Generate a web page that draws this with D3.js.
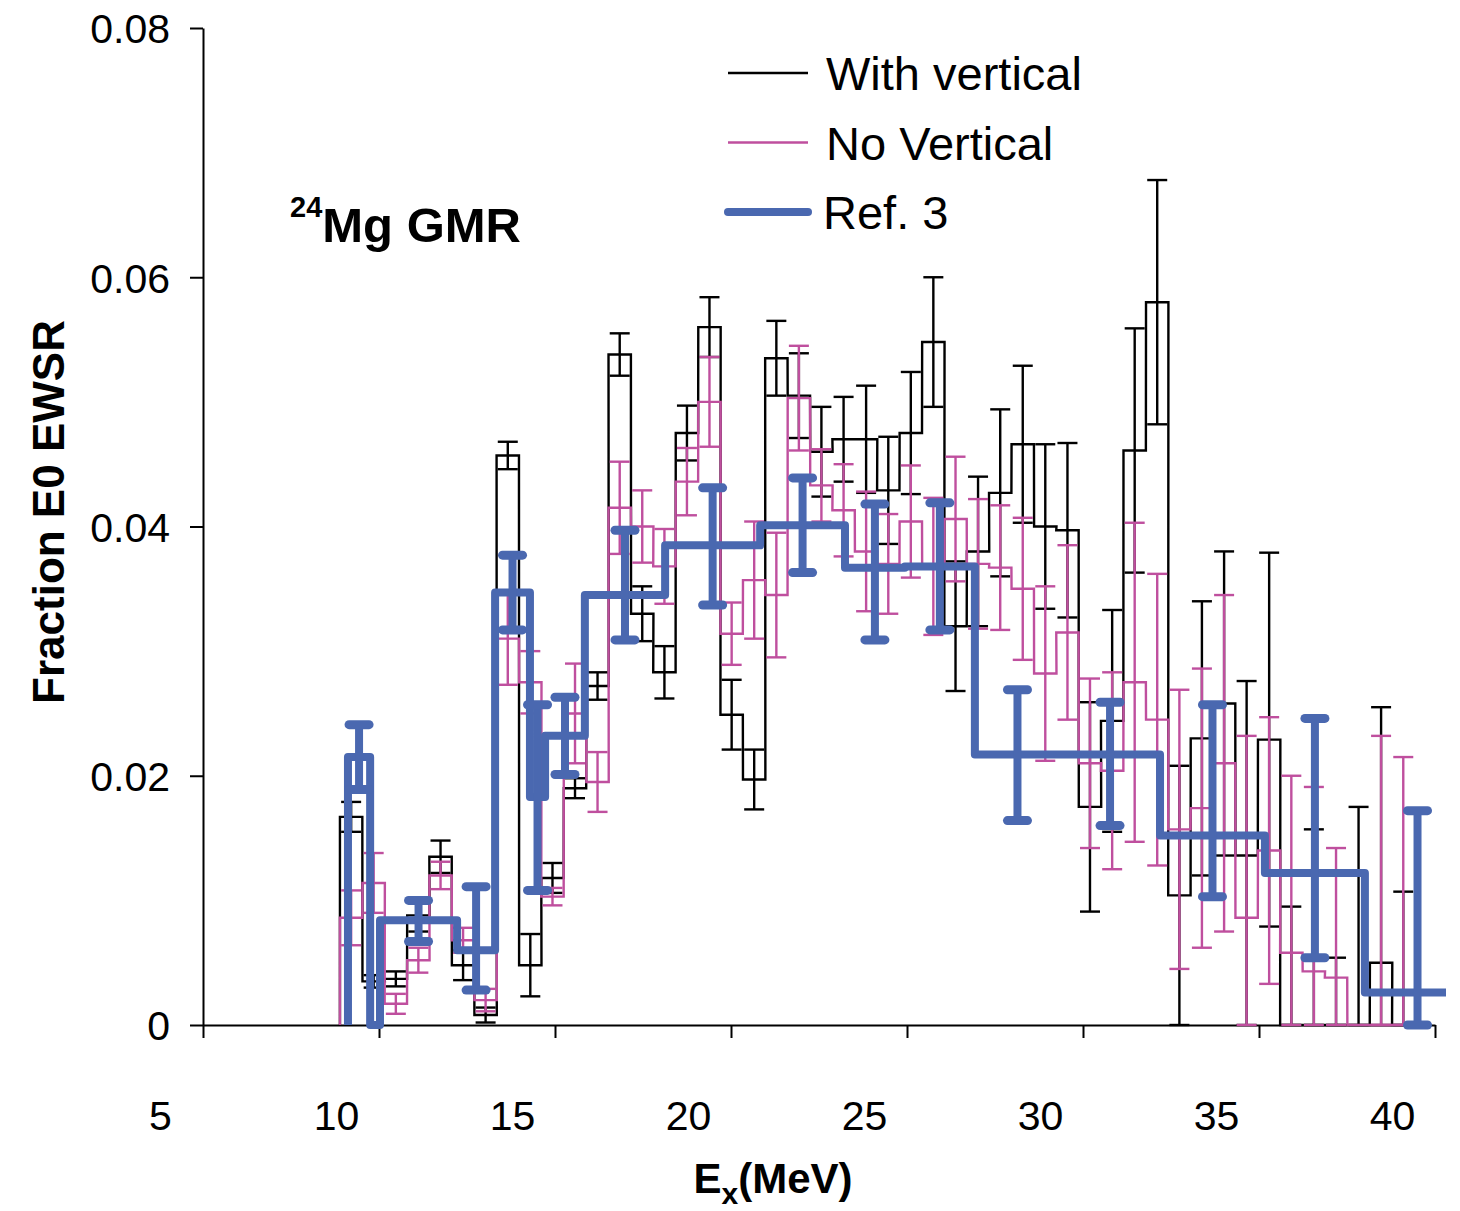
<!DOCTYPE html>
<html>
<head>
<meta charset="utf-8">
<script src="https://cdn.jsdelivr.net/npm/d3@7"></script>
<style>
  body { margin: 0; background: #fff; }
  svg text { font-family: "Liberation Sans", Arial, sans-serif; fill: #000; }
</style>
</head>
<body>
<div id="chart"></div>
<script>
const WIDTH = 1460;
const HEIGHT = 1211;

// bin centres (MeV) used by both of our fits
const energy = [10.43, 11.07, 11.70, 12.34, 12.97, 13.61, 14.25, 14.88, 15.52, 16.15,
  16.79, 17.43, 18.06, 18.70, 19.33, 19.97, 20.61, 21.24, 21.88, 22.51,
  23.15, 23.79, 24.42, 25.06, 25.69, 26.33, 26.97, 27.60, 28.24, 28.87,
  29.51, 30.15, 30.78, 31.42, 32.05, 32.69, 33.33, 33.96, 34.60, 35.23,
  35.87, 36.51, 37.14, 37.78, 38.41, 39.05, 39.69, 40.32];
const BIN_W = 0.636;

// "With vertical"
const withVertical = [0.0167, 0.0035, 0.0037, 0.0088, 0.0135, 0.0048, 0.0008, 0.0457, 0.0048, 0.0118,
  0.0190, 0.0272, 0.0538, 0.0330, 0.0283, 0.0475, 0.0560, 0.0249, 0.0197, 0.0535,
  0.0505, 0.0460, 0.0470, 0.0470, 0.0429, 0.0475, 0.0548, 0.0320, 0.0380, 0.0427,
  0.0466, 0.0400, 0.0397, 0.0175, 0.0244, 0.0461, 0.0580, 0.0104, 0.0230, 0.0258,
  0.0136, 0.0229, 0.0000, 0.0000, 0.0000, 0.0000, 0.0050, 0.0000];
const withVerticalErr = [0.0012, 0.0005, 0.0006, 0.0013, 0.0013, 0.0012, 0.0006, 0.0011, 0.0025, 0.0012,
  0.0008, 0.0011, 0.0017, 0.0022, 0.0021, 0.0022, 0.0024, 0.0028, 0.0024, 0.0030,
  0.0034, 0.0036, 0.0034, 0.0043, 0.0043, 0.0049, 0.0052, 0.0052, 0.0060, 0.0067,
  0.0063, 0.0066, 0.0070, 0.0084, 0.0089, 0.0098, 0.0098, 0.0104, 0.0110, 0.0122,
  0.0140, 0.0150, 0.0095, 0.0157, 0.0054, 0.0175, 0.0205, 0.0107];

// "No Vertical"
const noVertical = [0.0086, 0.0114, 0.0017, 0.0052, 0.0120, 0.0068, 0.0020, 0.0310, 0.0275, 0.0103,
  0.0250, 0.0195, 0.0415, 0.0400, 0.0368, 0.0436, 0.0500, 0.0314, 0.0357, 0.0345,
  0.0503, 0.0433, 0.0413, 0.0380, 0.0370, 0.0404, 0.0368, 0.0406, 0.0370, 0.0367,
  0.0350, 0.0282, 0.0315, 0.0210, 0.0204, 0.0275, 0.0245, 0.0157, 0.0174, 0.0210,
  0.0086, 0.0140, 0.0058, 0.0043, 0.0038, 0.0000, 0.0000, 0.0000];
const noVerticalErr = [0.0022, 0.0024, 0.0008, 0.0010, 0.0011, 0.0010, 0.0009, 0.0037, 0.0025, 0.0007,
  0.0040, 0.0024, 0.0037, 0.0029, 0.0030, 0.0027, 0.0036, 0.0025, 0.0047, 0.0050,
  0.0042, 0.0029, 0.0037, 0.0048, 0.0040, 0.0045, 0.0055, 0.0050, 0.0052, 0.0050,
  0.0057, 0.0070, 0.0070, 0.0068, 0.0079, 0.0128, 0.0117, 0.0112, 0.0112, 0.0135,
  0.0146, 0.0107, 0.0142, 0.0148, 0.0104, 0.0000, 0.0232, 0.0215];

// Ref. 3 (bin edges in MeV, value, upper / lower error)
const ref3Lo = [10.34, 11.25, 13.44, 14.52, 15.51, 15.94, 17.07, 19.35, 22.05, 24.46, 26.16, 28.15, 30.57, 33.41, 36.39, 39.23];
const ref3Hi = [10.97, 13.44, 14.52, 15.51, 15.94, 17.07, 19.35, 22.05, 24.46, 26.16, 28.15, 30.57, 33.41, 36.39, 39.23, 42.22];
const ref3 = [0.0215, 0.0084, 0.0060, 0.0347, 0.0183, 0.0232, 0.0345, 0.0385, 0.0401, 0.0367, 0.0368, 0.0217, 0.0217, 0.0152, 0.0122, 0.0026];
const ref3Up = [0.0026, 0.0016, 0.0051, 0.0030, 0.0074, 0.0031, 0.0052, 0.0046, 0.0038, 0.0051, 0.0051, 0.0052, 0.0042, 0.0105, 0.0124, 0.0146];
const ref3Down = [0.0026, 0.0017, 0.0032, 0.0030, 0.0075, 0.0031, 0.0036, 0.0048, 0.0038, 0.0058, 0.0051, 0.0053, 0.0057, 0.0049, 0.0068, 0.0026];

const xTicks = [5, 10, 15, 20, 25, 30, 35, 40];
const yTicks = [0, 0.02, 0.04, 0.06, 0.08];

const BLACK = "#000";
const PINK = "#bf4f9e";
const BLUE = "#4a68b0";

const svg = d3.select("#chart").append("svg")
  .attr("width", WIDTH)
  .attr("height", HEIGHT);

// labels sit left of their tick marks, as in the original
const x = d3.scaleLinear().domain([5, 40]).range([160, 1392]);
const y = d3.scaleLinear().domain([0, 0.08]).range([1025, 28]);
const TICK_SHIFT = 43;

svg.append("defs").append("clipPath").attr("id", "plot-clip")
  .append("rect")
  .attr("x", x(5) + TICK_SHIFT).attr("y", 0)
  .attr("width", 1446 - (x(5) + TICK_SHIFT)).attr("height", y(0) + 12);

// axes
const xAxis = svg.append("g")
  .attr("transform", `translate(${TICK_SHIFT}, ${y(0)})`)
  .call(d3.axisBottom(x).tickValues(xTicks).tickSize(13).tickSizeOuter(0));
xAxis.selectAll("text")
  .attr("x", -TICK_SHIFT).attr("y", 105).attr("dy", 0)
  .style("font-size", "41px");

const yAxis = svg.append("g")
  .attr("transform", `translate(${x(5) + TICK_SHIFT}, 0)`)
  .call(d3.axisLeft(y).tickValues(yTicks).tickSize(13).tickSizeOuter(0)
    .tickFormat(d => d === 0 ? "0" : d3.format(".2f")(d)));
yAxis.selectAll("text")
  .attr("x", -33).attr("dy", "0.36em")
  .style("font-size", "41px");

[xAxis, yAxis].forEach(g => {
  g.select(".domain").attr("stroke", BLACK).attr("stroke-width", 2);
  g.selectAll(".tick line").attr("stroke", BLACK).attr("stroke-width", 2);
});

const plot = svg.append("g").attr("clip-path", "url(#plot-clip)");
const line = d3.line().x(d => x(d[0])).y(d => y(d[1]));

function histogram(vals, errs, color) {
  const pts = [[energy[0] - BIN_W / 2, 0]];
  vals.forEach((v, i) => {
    pts.push([energy[i] - BIN_W / 2, v], [energy[i] + BIN_W / 2, v]);
  });
  pts.push([energy[energy.length - 1] + BIN_W / 2, 0]);

  const g = plot.append("g");
  g.append("path")
    .attr("d", line(pts))
    .attr("fill", "none")
    .attr("stroke", color)
    .attr("stroke-width", 2.4);

  const bars = vals.map((v, i) => ({ e: energy[i], hi: v + errs[i], lo: Math.max(0, v - errs[i]), err: errs[i] }))
    .filter(d => d.err > 0);
  const capHalf = 10;
  g.selectAll(".bar").data(bars).enter().append("line")
    .attr("x1", d => x(d.e)).attr("x2", d => x(d.e))
    .attr("y1", d => y(d.hi)).attr("y2", d => y(d.lo))
    .attr("stroke", color).attr("stroke-width", 2.4);
  ["hi", "lo"].forEach(k => {
    g.selectAll(".cap-" + k).data(bars).enter().append("line")
      .attr("x1", d => x(d.e) - capHalf).attr("x2", d => x(d.e) + capHalf)
      .attr("y1", d => y(d[k])).attr("y2", d => y(d[k]))
      .attr("stroke", color).attr("stroke-width", 2.4);
  });
}

histogram(withVertical, withVerticalErr, BLACK);
histogram(noVertical, noVerticalErr, PINK);

// Ref. 3 : thick steps, falls back to zero where the bins leave a gap
const refPts = [[ref3Lo[0], 0]];
ref3.forEach((v, i) => {
  if (i > 0 && ref3Lo[i] > ref3Hi[i - 1]) {
    refPts.push([ref3Hi[i - 1], 0], [ref3Lo[i], 0]);
  }
  refPts.push([ref3Lo[i], v], [ref3Hi[i], v]);
});
refPts.push([ref3Hi[ref3Hi.length - 1], 0]);

const refG = plot.append("g");
refG.append("path")
  .attr("d", line(refPts))
  .attr("fill", "none")
  .attr("stroke", BLUE)
  .attr("stroke-width", 8)
  .attr("stroke-linejoin", "round");

const refBars = ref3.map((v, i) => ({
  e: (ref3Lo[i] + ref3Hi[i]) / 2,
  hi: v + ref3Up[i],
  lo: Math.max(0, v - ref3Down[i])
}));
refG.selectAll(".rbar").data(refBars).enter().append("line")
  .attr("x1", d => x(d.e)).attr("x2", d => x(d.e))
  .attr("y1", d => y(d.hi)).attr("y2", d => y(d.lo))
  .attr("stroke", BLUE).attr("stroke-width", 8);
["hi", "lo"].forEach(k => {
  refG.selectAll(".rcap-" + k).data(refBars).enter().append("line")
    .attr("x1", d => x(d.e) - 10).attr("x2", d => x(d.e) + 10)
    .attr("y1", d => y(d[k])).attr("y2", d => y(d[k]))
    .attr("stroke", BLUE).attr("stroke-width", 9)
    .attr("stroke-linecap", "round");
});

// legend
const legend = [
  { label: "With vertical", color: BLACK, width: 2.4, cap: "butt" },
  { label: "No Vertical", color: PINK, width: 2.4, cap: "butt" },
  { label: "Ref. 3", color: BLUE, width: 8, cap: "round" }
];
const lg = svg.append("g").attr("transform", "translate(728, 73)");
legend.forEach((d, i) => {
  lg.append("line")
    .attr("x1", 0).attr("x2", 80)
    .attr("y1", i * 69.5).attr("y2", i * 69.5)
    .attr("stroke", d.color).attr("stroke-width", d.width)
    .attr("stroke-linecap", d.cap);
  lg.append("text")
    .attr("x", i === 2 ? 95 : 98)
    .attr("y", i * 69.5 + 17)
    .style("font-size", "47px")
    .text(d.label);
});

// panel label
const tag = svg.append("text")
  .attr("x", 290).attr("y", 242)
  .style("font-size", "49px").style("font-weight", "bold");
tag.append("tspan").attr("dy", -25).style("font-size", "29px").text("24");
tag.append("tspan").attr("dy", 25).text("Mg GMR");

// axis titles
const xt = svg.append("text")
  .attr("x", 773).attr("y", 1193)
  .attr("text-anchor", "middle")
  .style("font-size", "42px").style("font-weight", "bold");
xt.append("tspan").text("E");
xt.append("tspan").attr("dy", 11).style("font-size", "30px").text("x");
xt.append("tspan").attr("dy", -11).text("(MeV)");

svg.append("text")
  .attr("transform", "translate(64, 512) rotate(-90)")
  .attr("text-anchor", "middle")
  .style("font-size", "44px").style("font-weight", "bold")
  .text("Fraction E0 EWSR");
</script>
</body>
</html>
